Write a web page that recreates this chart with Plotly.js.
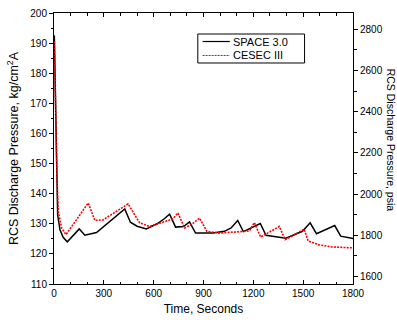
<!DOCTYPE html>
<html>
<head>
<meta charset="utf-8">
<script src="https://cdn.plot.ly/plotly-3.0.1.min.js"></script>
<style>html,body{margin:0;padding:0;background:#fff;}#chart{width:397px;height:320px;}</style>
</head>
<body>
<div id="chart"></div>
<script>
// SPACE 3.0 (black solid)
const spaceTime = [2, 8, 12, 16, 22, 36, 55, 80, 152, 186, 256, 426, 460, 500, 556, 620, 660, 696, 732, 780, 816, 852, 956, 1026, 1066, 1106, 1140, 1242, 1276, 1396, 1496, 1542, 1580, 1690, 1726, 1800];
const spacePress = [192.5, 172, 155, 140, 133, 128, 125.5, 124.0, 128.3, 126.2, 127.1, 134.9, 130.5, 129.2, 128.3, 130.0, 131.5, 133.2, 128.9, 129.1, 130.6, 126.9, 126.9, 127.5, 128.6, 131.1, 127.4, 130.1, 126.2, 125.2, 127.5, 130.3, 126.7, 129.4, 125.9, 125.1];
// CESEC III (red dotted)
const cesecTime = [2, 8, 12, 18, 26, 46, 72, 206, 246, 296, 446, 480, 516, 576, 716, 746, 786, 826, 876, 920, 996, 1176, 1206, 1244, 1356, 1392, 1506, 1530, 1596, 1676, 1800];
const cesecPress = [190.5, 178, 162, 145, 134, 128.6, 126.4, 136.9, 131.1, 131.3, 136.6, 133.5, 130.3, 129.1, 131.6, 133.6, 128.6, 129.7, 131.9, 127.5, 126.9, 127.6, 130.4, 125.6, 129.1, 124.7, 128.2, 124.3, 123.0, 122.3, 122.0];

const seriesNames = ['SPACE 3.0', 'CESEC III'];
const xTitle = 'Time, Seconds';
const yTitle = 'RCS Discharge Pressure, kg/cm<sup>2</sup>A';
const y2Title = 'RCS Discharge Pressure, psia';
const xRange = [0, 1800];
const yRange = [110, 200];
const y2Range = [1563, 2879];

const fontFam = 'Liberation Sans, Arial, sans-serif';
const blackLine = {color: '#000000', width: 1.5};
const redLine = {color: '#ff0000', width: 1.6, dash: '2px,1.2px'};

const traces = [
  {x: spaceTime, y: spacePress, name: seriesNames[0], type: 'scatter', mode: 'lines',
   line: blackLine, hoverinfo: 'skip', showlegend: false},
  {x: cesecTime, y: cesecPress, name: seriesNames[1], type: 'scatter', mode: 'lines',
   line: redLine, hoverinfo: 'skip', showlegend: false},
  {x: [], y: [], yaxis: 'y2', type: 'scatter', mode: 'lines', showlegend: false, hoverinfo: 'skip'}
];

// legend box (paper coordinates)
const lg = {x0: 0.481, x1: 0.838, y0: 0.8155, y1: 0.9225, sx0: 0.497, sx1: 0.588, tx: 0.594, r1: 0.8948, r2: 0.8432};

const layout = {
  width: 397, height: 320,
  margin: {l: 54, r: 44, t: 13, b: 36, pad: 0},
  paper_bgcolor: '#ffffff', plot_bgcolor: '#ffffff',
  font: {family: fontFam, size: 10, color: '#000'},
  showlegend: false,
  xaxis: {range: xRange, dtick: 300, tick0: 0, ticks: 'inside', ticklen: 4, tickwidth: 1,
    tickcolor: '#000', showline: true, linecolor: '#000', linewidth: 1, mirror: 'ticks',
    showgrid: false, zeroline: false, tickfont: {size: 10},
    minor: {dtick: 100, ticks: 'inside', ticklen: 2.5, tickcolor: '#000', showgrid: false},
    title: {text: xTitle, font: {size: 12}, standoff: 6}},
  yaxis: {range: yRange, dtick: 10, ticks: 'outside', ticklen: 4, tickwidth: 1,
    tickcolor: '#000', showline: true, linecolor: '#000', linewidth: 1,
    showgrid: false, zeroline: false, tickfont: {size: 10},
    minor: {dtick: 5, ticks: 'outside', ticklen: 2.5, tickcolor: '#000', showgrid: false},
    title: {text: yTitle, font: {size: 12.5}, standoff: 8}},
  yaxis2: {range: y2Range, overlaying: 'y', side: 'right', tick0: 1600, dtick: 200,
    ticks: 'outside', ticklen: 4, tickwidth: 1, tickcolor: '#000', showline: true,
    linecolor: '#000', linewidth: 1, showgrid: false, zeroline: false, tickfont: {size: 10},
    minor: {dtick: 100, ticks: 'outside', ticklen: 2.5, tickcolor: '#000', showgrid: false}},
  shapes: [
    {type: 'rect', xref: 'paper', yref: 'paper', x0: lg.x0, x1: lg.x1, y0: lg.y0, y1: lg.y1,
     line: {color: '#000', width: 1}, fillcolor: '#ffffff', layer: 'above'},
    {type: 'line', xref: 'paper', yref: 'paper', x0: lg.sx0, x1: lg.sx1, y0: lg.r1, y1: lg.r1,
     line: {color: blackLine.color, width: 1.2}, layer: 'above'},
    {type: 'line', xref: 'paper', yref: 'paper', x0: lg.sx0, x1: lg.sx1, y0: lg.r2, y1: lg.r2,
     line: {color: redLine.color, width: 1.2, dash: '2px,1px'}, layer: 'above'}
  ],
  annotations: [
    {text: seriesNames[0], xref: 'paper', yref: 'paper', x: lg.tx, y: lg.r1, xanchor: 'left', yanchor: 'middle',
     showarrow: false, borderpad: 0, font: {family: fontFam, size: 11, color: '#000'}},
    {text: seriesNames[1], xref: 'paper', yref: 'paper', x: lg.tx, y: lg.r2, xanchor: 'left', yanchor: 'middle',
     showarrow: false, borderpad: 0, font: {family: fontFam, size: 11, color: '#000'}},
    {text: y2Title, xref: 'paper', yref: 'paper', x: 1.126, y: 0.53, xanchor: 'center', yanchor: 'middle',
     textangle: 90, showarrow: false, font: {family: fontFam, size: 10.5, color: '#000'}}
  ]
};

Plotly.newPlot('chart', traces, layout, {displayModeBar: false, staticPlot: true});
</script>
</body>
</html>
